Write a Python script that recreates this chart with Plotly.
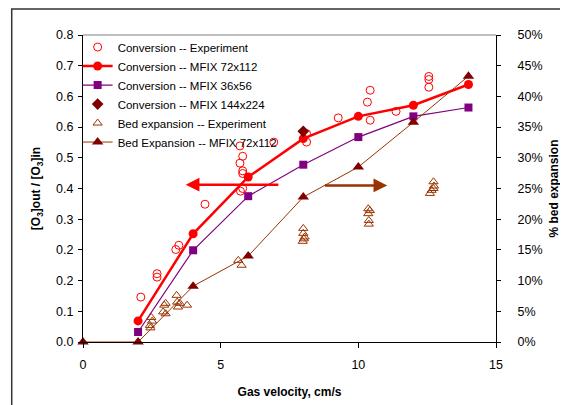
import plotly.graph_objects as go

# ---------------- data ----------------
conv_exp_x = [2.1, 2.69, 2.69, 3.37, 3.48, 4.43, 5.70, 5.80, 5.70, 5.80, 5.80, 5.80, 5.72,
              6.93, 8.12, 8.12, 9.27, 10.33, 10.43, 10.43, 11.37, 12.56, 12.56, 12.56]
conv_exp_y = [0.117, 0.178, 0.169, 0.241, 0.252, 0.359, 0.511, 0.484, 0.466, 0.446, 0.439, 0.400, 0.393,
              0.521, 0.543, 0.521, 0.584, 0.625, 0.656, 0.578, 0.601, 0.692, 0.684, 0.664]

mfix72_x = [2, 4, 6, 8, 10, 12, 14]
mfix72_y = [0.055, 0.282, 0.430, 0.530, 0.588, 0.617, 0.671]

mfix36_x = [2, 4, 6, 8, 10, 12, 14]
mfix36_y = [0.026, 0.239, 0.380, 0.462, 0.534, 0.588, 0.611]

mfix144_x = [8]
mfix144_y = [0.549]

bed_exp_x = [2.43, 2.51, 2.45, 2.48, 2.91, 3.0, 2.95, 3.0,
             3.40, 3.42, 3.45, 3.52, 3.78,
             5.64, 5.76,
             8.0, 8.0, 8.02, 7.98, 8.05,
             10.36, 10.42, 10.36, 10.38, 10.38,
             12.73, 12.75, 12.73, 12.60, 12.66]
bed_exp_y = [2.7, 3.4, 2.3, 4.0, 4.9, 4.6, 6.0, 6.3,
             7.6, 6.5, 5.7, 6.3, 6.0,
             13.3, 12.5,
             18.5, 17.7, 16.8, 16.4, 17.1,
             21.7, 21.4, 20.9, 19.8, 19.2,
             26.1, 25.4, 25.0, 24.2, 24.7]

bed72_x = [0, 2, 4, 6, 8, 10, 12, 14]
bed72_y = [0, 0, 9.1, 14.0, 23.6, 28.5, 35.8, 43.3]

# arrows (tail x, head x, level)
conv_arrow = [7.15, 3.73, 0.41]
bed_arrow = [8.73, 11.05, 25.5]

x_ticks = [0, 5, 10, 15]

RED = "#FF0000"
PURPLE = "#800080"
DARKRED = "#800000"
BROWN = "#993300"
FONT = "Liberation Sans, Arial, sans-serif"

fig = go.Figure()

fig.add_trace(go.Scatter(
    x=conv_exp_x, y=conv_exp_y, mode="markers", name="Conversion -- Experiment",
    marker=dict(symbol="circle-open", size=8, color=RED, line=dict(width=1, color=RED)),
    cliponaxis=False))
fig.add_trace(go.Scatter(
    x=mfix72_x, y=mfix72_y, mode="lines+markers", name="Conversion -- MFIX 72x112",
    line=dict(color=RED, width=2.5),
    marker=dict(symbol="circle", size=9, color=RED), cliponaxis=False))
fig.add_trace(go.Scatter(
    x=mfix36_x, y=mfix36_y, mode="lines+markers", name="Conversion -- MFIX 36x56",
    line=dict(color=PURPLE, width=1.2),
    marker=dict(symbol="square", size=8, color=PURPLE), cliponaxis=False))
fig.add_trace(go.Scatter(
    x=mfix144_x, y=mfix144_y, mode="markers", name="Conversion -- MFIX 144x224",
    marker=dict(symbol="diamond", size=9, color=DARKRED), cliponaxis=False))
fig.add_trace(go.Scatter(
    x=bed_exp_x, y=bed_exp_y, mode="markers", name="Bed expansion -- Experiment",
    yaxis="y2",
    marker=dict(symbol="triangle-up-open", size=8, color=BROWN, line=dict(width=1, color=BROWN)),
    cliponaxis=False))
fig.add_trace(go.Scatter(
    x=bed72_x, y=bed72_y, mode="lines+markers", name="Bed Expansion -- MFIX 72x112",
    yaxis="y2",
    line=dict(color=BROWN, width=1),
    marker=dict(symbol="triangle-up", size=10, color=DARKRED), cliponaxis=False))

fig.add_annotation(x=conv_arrow[1], y=conv_arrow[2], ax=conv_arrow[0], ay=conv_arrow[2],
                   xref="x", yref="y", axref="x", ayref="y", text="", showarrow=True,
                   arrowhead=2, arrowsize=1.1, arrowwidth=2.5, arrowcolor=RED)
fig.add_annotation(x=bed_arrow[1], y=bed_arrow[2], ax=bed_arrow[0], ay=bed_arrow[2],
                   xref="x", yref="y2", axref="x", ayref="y2", text="", showarrow=True,
                   arrowhead=2, arrowsize=1.1, arrowwidth=2.5, arrowcolor=BROWN)

# plot-area top border and outer chart border
fig.add_shape(type="line", xref="paper", yref="paper", x0=0, x1=1, y0=1, y1=1,
              line=dict(color="#808080", width=1))
fig.add_shape(type="rect", xref="paper", yref="paper", x0=-0.1726, x1=1.5, y0=-0.5, y1=1.0847,
              line=dict(color="#333333", width=1.5), fillcolor="rgba(0,0,0,0)", layer="below")

fig.update_layout(
    width=560, height=397,
    margin=dict(l=75, r=72, t=27, b=63, autoexpand=False),
    paper_bgcolor="white", plot_bgcolor="white",
    font=dict(family=FONT, size=12, color="black"),
    showlegend=True,
    legend=dict(x=-0.013, y=1.008, xanchor="left", yanchor="top",
                bgcolor="rgba(0,0,0,0)", font=dict(size=11.5, family=FONT),
                tracegroupgap=0, itemwidth=30),
    xaxis=dict(range=[0, 15], tickvals=x_ticks, showgrid=False, zeroline=False,
               showline=True, linecolor="black", linewidth=1, automargin=False,
               ticks="outside", ticklen=5, tickcolor="black",
               tickfont=dict(size=12.5), ticklabelstandoff=6,
               title=dict(text="<b>Gas velocity, cm/s</b>", font=dict(size=12), standoff=16)),
    yaxis=dict(range=[0, 0.8], dtick=0.08, tick0=0, tickformat=".1f", showgrid=False,
               zeroline=False, showline=True, linecolor="black", linewidth=1, automargin=False,
               ticks="outside", ticklen=4, tickcolor="black",
               tickfont=dict(size=12.5), ticklabelstandoff=2,
               title=dict(text="<b>[O<sub>3</sub>]out / [O<sub>3</sub>]in</b>",
                          font=dict(size=12), standoff=12)),
    yaxis2=dict(range=[0, 50], dtick=5, tick0=0, ticksuffix="%", overlaying="y", side="right",
                showgrid=False, zeroline=False, showline=True, linecolor="black", linewidth=1,
                automargin=False,
                ticks="outside", ticklen=4, tickcolor="black",
                tickfont=dict(size=12.5), ticklabelstandoff=14,
                title=dict(text="<b>% bed expansion</b>", font=dict(size=12), standoff=8)),
)

fig.write_html("out.html")
